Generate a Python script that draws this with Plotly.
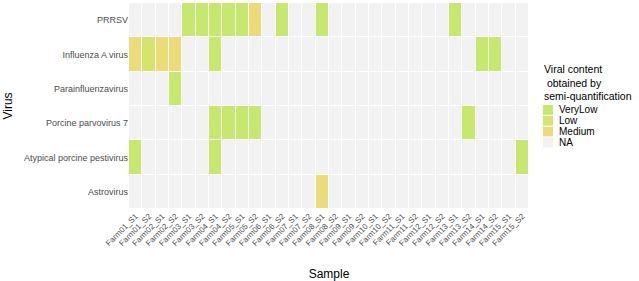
import plotly.graph_objects as go

samples = [f"Farm{f:02d}_S{s}" for f in range(1, 16) for s in (1, 2)]
viruses = ["PRRSV", "Influenza A virus", "Parainfluenzavirus",
           "Porcine parvovirus 7", "Atypical porcine pestivirus", "Astrovirus"]
levels = ["NA", "VeryLow", "Low", "Medium"]
level_colors = ["#f2f2f2", "#c6e86e", "#d6e36c", "#ebdc79"]
legend_order = ["VeryLow", "Low", "Medium", "NA"]
legend_title = "Viral content<br>&nbsp;obtained by<br>semi-quantification"

# detections per virus: sample index -> level
prrsv = {4: "VeryLow", 5: "VeryLow", 6: "VeryLow", 7: "VeryLow", 8: "VeryLow",
         9: "Medium", 11: "VeryLow", 14: "VeryLow", 24: "VeryLow"}
influenza = {0: "Medium", 1: "Low", 2: "Medium", 3: "Medium", 6: "VeryLow",
             26: "VeryLow", 27: "VeryLow"}
parainfluenza = {3: "VeryLow"}
ppv7 = {6: "VeryLow", 7: "VeryLow", 8: "VeryLow", 9: "VeryLow", 25: "VeryLow"}
pestivirus = {0: "VeryLow", 6: "VeryLow", 29: "VeryLow"}
astrovirus = {14: "Medium"}
detections = [prrsv, influenza, parainfluenza, ppv7, pestivirus, astrovirus]

z = []
text = []
for d in detections:
    row = [levels.index(d.get(i, "NA")) for i in range(len(samples))]
    z.append(row)
    text.append([levels[v] for v in row])

cs = []
n = len(levels)
for i, c in enumerate(level_colors):
    cs.append([i / n, c])
    cs.append([(i + 1) / n, c])

W, H = 639, 281
L, R, T, B = 129, 110, 3, 68
pw, ph = W - L - R, H - T - B


def px_x(px):
    return (px - L) / pw


def px_y(py):
    return (H - B - py) / ph


fig = go.Figure()
fig.add_trace(go.Heatmap(
    z=z, x=samples, y=viruses, text=text,
    colorscale=cs, zmin=-0.5, zmax=n - 0.5, showscale=False,
    xgap=1, ygap=1, hovertemplate="%{x}<br>%{y}<br>%{text}<extra></extra>"))

# manual legend (ggplot-style compact keys)
shapes = []
annotations = [dict(
    text=legend_title, xref="paper", yref="paper",
    x=px_x(542), y=px_y(84), xanchor="left", yanchor="middle",
    showarrow=False, align="left",
    font=dict(size=10.5, color="black"))]
key_top = 106.5
key_h = 11
for k, lvl in enumerate(legend_order):
    col = level_colors[levels.index(lvl)]
    y0 = key_top + k * key_h
    shapes.append(dict(
        type="rect", xref="paper", yref="paper",
        x0=px_x(543), x1=px_x(553), y0=px_y(y0 + key_h - 0.5), y1=px_y(y0 + 0.5),
        fillcolor=col, line=dict(width=0), layer="above"))
    annotations.append(dict(
        text=lvl, xref="paper", yref="paper",
        x=px_x(557), y=px_y(y0 + key_h / 2), xanchor="left", yanchor="middle",
        showarrow=False, font=dict(size=10, color="black")))

fig.update_layout(
    width=W, height=H,
    margin=dict(l=L, r=R, t=T, b=B),
    paper_bgcolor="white", plot_bgcolor="white",
    font=dict(family="Liberation Sans, Arial, sans-serif", color="#4d4d4d"),
    showlegend=False,
    shapes=shapes, annotations=annotations,
    xaxis=dict(
        title=dict(text="Sample", font=dict(size=12, color="black"), standoff=22),
        tickangle=-45, tickfont=dict(size=8, color="#4d4d4d"),
        showgrid=False, zeroline=False, ticks="", categoryorder="array",
        categoryarray=samples),
    yaxis=dict(
        title=dict(text="Virus", font=dict(size=12, color="black"), standoff=8),
        tickfont=dict(size=9, color="#4d4d4d"),
        showgrid=False, zeroline=False, ticks="",
        autorange="reversed"),
)

fig.write_html("out.html")
